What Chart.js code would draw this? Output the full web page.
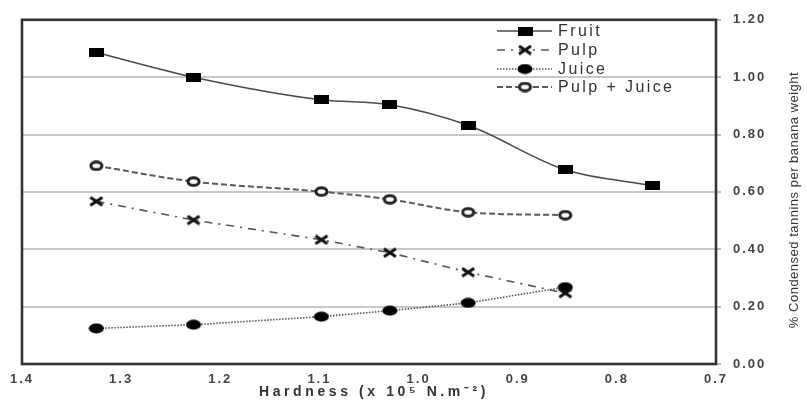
<!DOCTYPE html>
<html><head><meta charset="utf-8">
<script src="https://cdn.jsdelivr.net/npm/chart.js@4"></script>
<style>html,body{margin:0;padding:0;background:#fff}canvas{display:block}</style>
</head><body>
<canvas id="c" width="807" height="402"></canvas>
<script>
// ---- data ----
const hardness = [1.325, 1.227, 1.098, 1.029, 0.950, 0.852, 0.764];
const fruit = [1.086, 1.000, 0.921, 0.904, 0.832, 0.677, 0.622];
const pulp = [0.567, 0.502, 0.433, 0.388, 0.320, 0.247];
const juice = [0.124, 0.137, 0.165, 0.186, 0.213, 0.268];
const pulpJuice = [0.691, 0.636, 0.601, 0.574, 0.529, 0.519];
const seriesNames = ['Fruit', 'Pulp', 'Juice', 'Pulp + Juice'];
const xTickValues = [1.4, 1.3, 1.2, 1.1, 1.0, 0.9, 0.8, 0.7];
const yTickValues = [0, 0.2, 0.4, 0.6, 0.8, 1.0, 1.2];
const xTitle = 'Hardness (x 10\u2075 N.m\u207B\u00B2)';
const yTitle = '% Condensed tannins per banana weight';

// ---- marker images ----
function mk(w, h, draw) { const c = document.createElement('canvas'); c.width = w; c.height = h; draw(c.getContext('2d'), w, h); return c; }
const mRect = mk(15, 9, (g, w, h) => { g.fillStyle = '#000'; g.fillRect(0, 0, w, h); });
const mCross = mk(16, 11, (g, w, h) => { g.strokeStyle = '#111'; g.lineWidth = 3; g.beginPath(); g.moveTo(2, 1.5); g.lineTo(w - 2, h - 1.5); g.moveTo(w - 2, 1.5); g.lineTo(2, h - 1.5); g.stroke(); });
const mDot = mk(16, 11, (g, w, h) => { g.fillStyle = '#000'; g.beginPath(); g.ellipse(w / 2, h / 2, 7.5, 5, 0, 0, Math.PI * 2); g.fill(); });
const mRing = mk(15, 11, (g, w, h) => { g.fillStyle = '#fff'; g.strokeStyle = '#222'; g.lineWidth = 3; g.beginPath(); g.ellipse(w / 2, h / 2, 5.5, 3.8, 0, 0, Math.PI * 2); g.fill(); g.stroke(); });

const toPts = (vals) => vals.map((v, i) => ({ x: hardness[i], y: v }));

const datasets = [
  { label: seriesNames[0], data: toPts(fruit), borderColor: '#4a4a4a', borderWidth: 1.6, borderDash: [], tension: 0.4, cubicInterpolationMode: 'monotone', pointStyle: mRect },
  { label: seriesNames[1], data: toPts(pulp), borderColor: '#555', borderWidth: 1.6, borderDash: [8, 6, 2, 6], tension: 0, pointStyle: mCross },
  { label: seriesNames[2], data: toPts(juice), borderColor: '#555', borderWidth: 1.6, borderDash: [1.5, 1.5], tension: 0, pointStyle: mDot },
  { label: seriesNames[3], data: toPts(pulpJuice), borderColor: '#5a5a5a', borderWidth: 2, borderDash: [6, 3], tension: 0.25, cubicInterpolationMode: 'monotone', pointStyle: mRing }
].map(d => Object.assign({ showLine: true, fill: false, backgroundColor: '#000', pointRadius: 6 }, d));

const legendRows = [31, 50, 69, 87];

const decor = {
  id: 'decor',
  beforeDraw(chart) {
    chart.ctx.letterSpacing = '2px';
  },
  afterDatasetsDraw(chart) {
    const { ctx, chartArea: a } = chart;
    ctx.save();
    ctx.strokeStyle = '#333';
    ctx.lineWidth = 2.6;
    ctx.strokeRect(a.left, a.top, a.right - a.left, a.bottom - a.top);
    ctx.restore();
  },
  afterDraw(chart) {
    const { ctx } = chart;
    // legend
    ctx.save();
    chart.data.datasets.forEach((ds, i) => {
      const y = legendRows[i];
      ctx.strokeStyle = ds.borderColor;
      ctx.lineWidth = ds.borderWidth;
      ctx.setLineDash(ds.borderDash || []);
      ctx.beginPath(); ctx.moveTo(497, y); ctx.lineTo(552, y); ctx.stroke();
      ctx.setLineDash([]);
      const img = ds.pointStyle;
      ctx.drawImage(img, 525 - img.width / 2, y - img.height / 2);
      ctx.letterSpacing = '2.4px';
      ctx.fillStyle = '#333';
      ctx.font = '16px "Liberation Sans", Arial, sans-serif';
      ctx.textBaseline = 'middle';
      ctx.textAlign = 'left';
      ctx.fillText(ds.label, 558, y + 1);
    });
    ctx.restore();
    // axis titles
    ctx.save();
    ctx.fillStyle = '#333';
    ctx.letterSpacing = '3.6px';
    ctx.font = 'bold 14px "Liberation Sans", Arial, sans-serif';
    ctx.textAlign = 'center';
    ctx.textBaseline = 'middle';
    ctx.fillText(xTitle, 374, 392);
    ctx.restore();
    ctx.save();
    ctx.fillStyle = '#333';
    ctx.letterSpacing = '0.5px';
    ctx.font = '13px "Liberation Sans", Arial, sans-serif';
    ctx.textAlign = 'center';
    ctx.textBaseline = 'middle';
    ctx.translate(794, 200);
    ctx.rotate(-Math.PI / 2);
    ctx.fillText(yTitle, 0, 0);
    ctx.restore();
  }
};

new Chart(document.getElementById('c'), {
  type: 'scatter',
  data: { datasets },
  options: {
    responsive: false,
    devicePixelRatio: 1,
    animation: false,
    layout: { padding: { left: 22, top: 15, right: 0, bottom: 0 } },
    plugins: { legend: { display: false }, tooltip: { enabled: false } },
    scales: {
      x: {
        type: 'linear', reverse: true, min: 0.7, max: 1.4,
        afterBuildTicks: s => { s.ticks = xTickValues.map(v => ({ value: v })); },
        afterFit: s => { s.height = 38; },
        grid: { display: false, drawTicks: false },
        border: { display: false },
        ticks: { padding: 8, color: '#444', font: { family: '"Liberation Sans", Arial, sans-serif', size: 13, weight: 'bold' }, callback: v => Number(v).toFixed(1), maxRotation: 0, autoSkip: false }
      },
      y: {
        type: 'linear', position: 'right', min: 0, max: 1.2,
        afterBuildTicks: s => { s.ticks = yTickValues.map(v => ({ value: v })); },
        afterFit: s => { s.width = 91; },
        grid: { color: '#c8c8c8', lineWidth: 2, drawTicks: true, tickLength: 5, tickColor: '#bbb' },
        border: { display: false },
        ticks: { padding: 12, color: '#444', font: { family: '"Liberation Sans", Arial, sans-serif', size: 13, weight: 'bold' }, callback: v => Number(v).toFixed(2) }
      }
    }
  },
  plugins: [decor]
});
</script>
</body></html>
